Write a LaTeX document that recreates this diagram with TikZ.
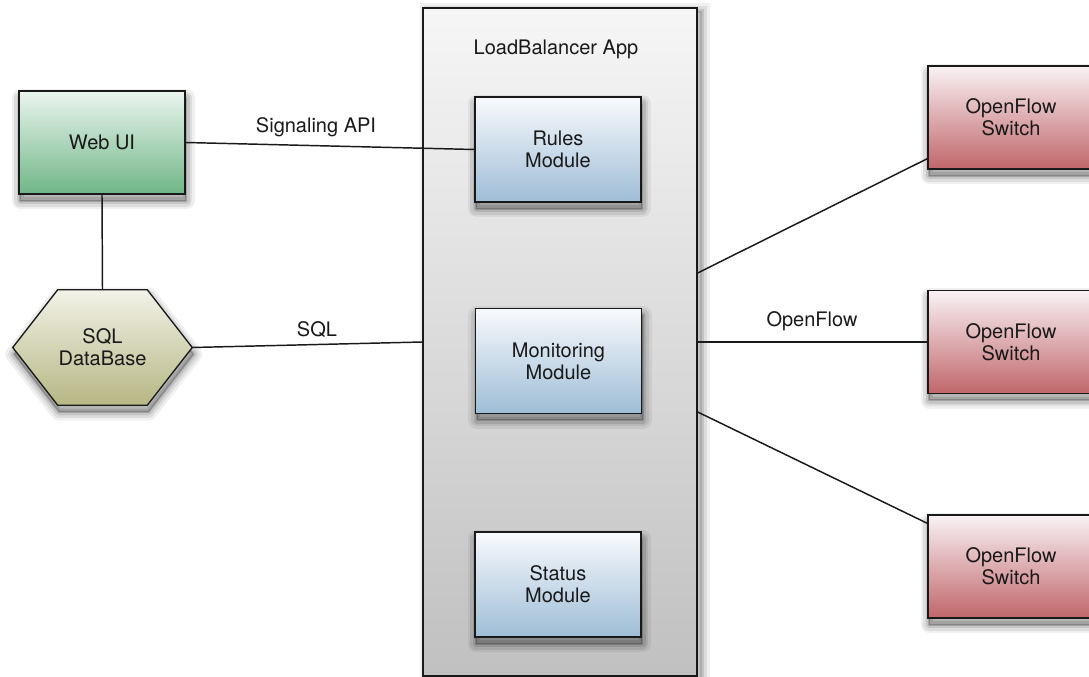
\documentclass[tikz,border=0pt]{standalone}
\usepackage{fontspec}
\setmainfont{TeX Gyre Heros}
\definecolor{webtop}{RGB}{234,245,238}
\definecolor{webbot}{RGB}{112,182,135}
\definecolor{hextop}{RGB}{242,242,232}
\definecolor{hexbot}{RGB}{182,182,132}
\definecolor{modtop}{RGB}{248,250,253}
\definecolor{modbot}{RGB}{158,189,214}
\definecolor{swtop}{RGB}{249,242,244}
\definecolor{swbot}{RGB}{192,102,106}
\definecolor{apptop}{RGB}{246,246,246}
\definecolor{appbot}{RGB}{192,192,192}
\definecolor{ink}{RGB}{25,25,25}
\begin{document}
\begin{tikzpicture}[x=0.75pt,y=-0.75pt,
  every node/.style={font=\fontsize{15}{16.5}\selectfont, text=ink, align=center},
  shad/.style={
    preaction={draw=black, line width=13pt, opacity=0.06, line join=round, transform canvas={xshift=1pt,yshift=-5pt}},
    preaction={draw=black, line width=9pt, opacity=0.08, line join=round, transform canvas={xshift=1pt,yshift=-5pt}},
    preaction={draw=black, line width=5pt, opacity=0.10, line join=round, transform canvas={xshift=1pt,yshift=-5pt}},
    preaction={draw=black, line width=1.5pt, fill=black, opacity=0.18, line join=round, transform canvas={xshift=1pt,yshift=-5pt}}},
  appshad/.style={
    preaction={draw=black, line width=12pt, opacity=0.06, transform canvas={xshift=4pt,yshift=-2pt}},
    preaction={draw=black, line width=7pt, opacity=0.08, transform canvas={xshift=4pt,yshift=-2pt}},
    preaction={draw=black, line width=3pt, fill=black, opacity=0.12, transform canvas={xshift=4pt,yshift=-2pt}}},
  box/.style={draw=ink, line width=1pt, inner sep=2pt, shad},
  modbox/.style={box, minimum width=124.5pt, minimum height=78.75pt, top color=modtop, bottom color=modbot},
  swbox/.style={box, minimum width=124.5pt, minimum height=77.25pt, top color=swtop, bottom color=swbot},
  webbox/.style={box, minimum width=124.5pt, minimum height=77.25pt, top color=webtop, bottom color=webbot},
  appbox/.style={draw=ink, line width=1pt, minimum width=205.5pt, minimum height=501pt, top color=apptop, bottom color=appbot, appshad},
  hexbox/.style={minimum width=134.25pt, minimum height=86.25pt, inner sep=0pt},
  link/.style={draw=ink, line width=1.1pt},
  lbl/.style={anchor=base}]
\useasboundingbox (0,0) rectangle (1089,677);

% container
\node (app) [appbox] at (560,342) {};
\node (title) at (556,49) {LoadBalancer App};

% modules
\node (rules) [modbox] at (558,149.5) {Rules\\Module};
\node (mon) [modbox] at (558.5,361) {Monitoring\\Module};
\node (status) [modbox] at (558,584.5) {Status\\Module};

% web ui
\node (web) [webbox] at (102,142.5) {Web UI};

% sql hexagon
\path node (sqlbox) [hexbox] at (102.5,347.5) {};
\shade[top color=hextop, bottom color=hexbot, draw=ink, line width=1pt, shad]
  (sqlbox.west) -- ([xshift=33.75pt]sqlbox.north west) -- ([xshift=-33.75pt]sqlbox.north east)
  -- (sqlbox.east) -- ([xshift=-33.75pt]sqlbox.south east) -- ([xshift=33.75pt]sqlbox.south west) -- cycle;
\node (sql) at (sqlbox) {SQL\\DataBase};

% switches
\node (sw1) [swbox] at (1011,117.5) {OpenFlow\\Switch};
\node (sw2) [swbox] at (1011,342) {OpenFlow\\Switch};
\node (sw3) [swbox] at (1011,566.5) {OpenFlow\\Switch};

% connectors
\draw[link] (web.east) -- (rules.west);
\draw[link] (web.south) -- (sqlbox.north);
\draw[link] (sqlbox.east) -- (app.west);
\draw[link] ([yshift=51.75pt]app.east) -- ([yshift=8.25pt]sw1.south west);
\draw[link] (app.east) -- (sw2.west);
\draw[link] ([yshift=-52.5pt]app.east) -- ([yshift=-6.75pt]sw3.north west);

% labels
\node (lsig) [lbl] at (316,133) {Signaling API};
\node (lsql) [lbl] at (317,336) {SQL};
\node (lof) [lbl] at (812,327) {OpenFlow};
\end{tikzpicture}
\end{document}
